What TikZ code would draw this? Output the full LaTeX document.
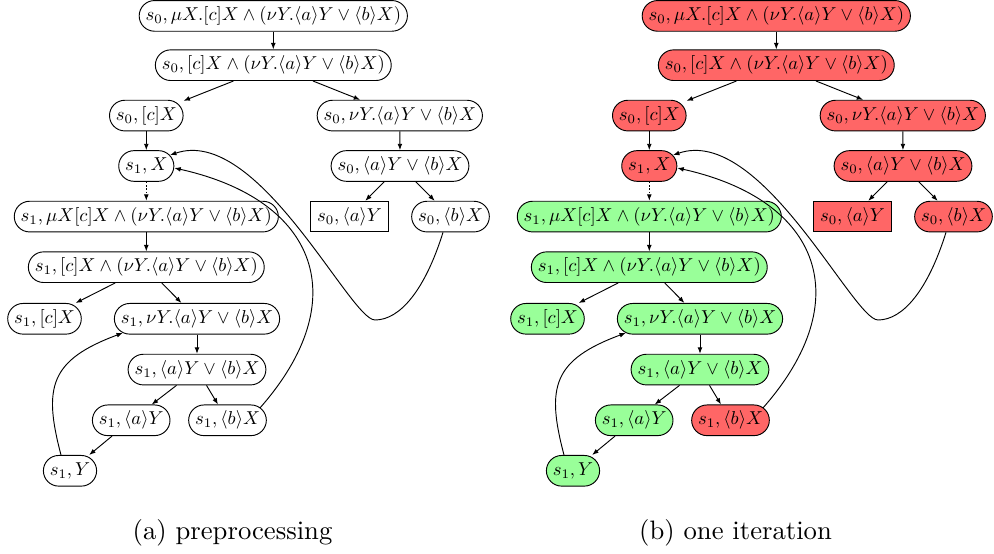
\documentclass[tikz,border=0pt]{standalone}
\usepackage{graphicx}
\usetikzlibrary{arrows.meta,calc}
\definecolor{rfill}{RGB}{255,102,102}
\definecolor{gfill}{RGB}{153,255,153}
\newcommand\mt[1]{\scalebox{0.70}{$#1$}}
\tikzset{
  stnode/.style={draw, line width=0.35pt, rounded corners=5.75pt, minimum height=11.5pt,
    inner xsep=2.4pt, inner ysep=0pt, text height=5.25pt, text depth=1.75pt},
  leafnode/.style={stnode, sharp corners},
  rnode/.style={}, gnode/.style={},
  conn/.style={-{Latex[length=2.4pt,width=1.8pt]}, line width=0.35pt},
  dotconn/.style={conn, dash pattern=on 0.6pt off 0.65pt},
  captext/.style={font=\normalsize, inner sep=0pt}
}
\newcommand\drawtree[1]{%
  \node[stnode,rnode] (#1n1) at (273.3,15.9) {\mt{s_0, \mu X.[c]X \wedge (\nu Y.\langle a\rangle Y \vee \langle b\rangle X)}};
  \node[stnode,rnode] (#1n2) at (273.3,65.2) {\mt{s_0, [c]X \wedge (\nu Y.\langle a\rangle Y \vee \langle b\rangle X)}};
  \node[stnode,rnode] (#1n3) at (146.3,115.6) {\mt{s_0, [c]X}};
  \node[stnode,rnode] (#1n4) at (399.8,115.6) {\mt{s_0, \nu Y.\langle a\rangle Y \vee \langle b\rangle X}};
  \node[stnode,rnode] (#1n5) at (146.3,166) {\mt{s_1, X}};
  \node[stnode,rnode] (#1n6) at (400,166) {\mt{s_0, \langle a\rangle Y \vee \langle b\rangle X}};
  \node[stnode,gnode] (#1n7) at (146.3,216.6) {\mt{s_1, \mu X[c]X \wedge (\nu Y.\langle a\rangle Y \vee \langle b\rangle X)}};
  \node[leafnode,rnode] (#1n8) at (349.5,216.6) {\mt{s_0, \langle a\rangle Y}};
  \node[stnode,rnode] (#1n9) at (450.5,216.6) {\mt{s_0, \langle b\rangle X}};
  \node[stnode,gnode] (#1n10) at (146.3,267.2) {\mt{s_1, [c]X \wedge (\nu Y.\langle a\rangle Y \vee \langle b\rangle X)}};
  \node[stnode,gnode] (#1n11) at (44.5,318.8) {\mt{s_1, [c]X}};
  \node[stnode,gnode] (#1n12) at (197,318.8) {\mt{s_1, \nu Y.\langle a\rangle Y \vee \langle b\rangle X}};
  \node[stnode,gnode] (#1n13) at (197,369.6) {\mt{s_1, \langle a\rangle Y \vee \langle b\rangle X}};
  \node[stnode,gnode] (#1n14) at (131.2,420.3) {\mt{s_1, \langle a\rangle Y}};
  \node[stnode,rnode] (#1n15) at (227.5,420.3) {\mt{s_1, \langle b\rangle X}};
  \node[stnode,gnode] (#1n16) at (70,470.8) {\mt{s_1, Y}};
  \coordinate (#1m) at (375,320);
  \draw[conn] (#1n1) -- (#1n2);
  \draw[conn] (#1n2) -- (#1n3);
  \draw[conn] (#1n2) -- (#1n4);
  \draw[conn] (#1n3) -- (#1n5);
  \draw[conn] (#1n4) -- (#1n6);
  \draw[dotconn] (#1n5) -- (#1n7);
  \draw[conn] (#1n6) -- (#1n8);
  \draw[conn] (#1n6) -- (#1n9);
  \draw[conn] (#1n7) -- (#1n10);
  \draw[conn] (#1n10) -- (#1n11);
  \draw[conn] (#1n10) -- (#1n12);
  \draw[conn] (#1n12) -- (#1n13);
  \draw[conn] (#1n13) -- (#1n14);
  \draw[conn] (#1n13) -- (#1n15);
  \draw[conn] (#1n14) -- (#1n16);
  \draw[conn] ($(#1n16.north)+(-9,0)$) .. controls (43,387) and (50,360) .. ($(#1n12.south west)+(9,-1.7)$);
  \draw[conn] ($(#1n15.north east)+(-6.7,3.3)$) .. controls (355,300) and (318,200) .. ($(#1n5.east)+(0,2)$);
  \draw[conn] ($(#1n9.south)+(-7.5,0)$) .. controls (425,290) and (400,320) .. (#1m)
     .. controls (350,320) and (258,125) .. ($(#1n5.east)+(-4.3,-10.9)$);
}
\begin{document}
\begin{tikzpicture}[x=0.375pt,y=-0.375pt]
  \useasboundingbox (0,0) rectangle (994,554);
  \begin{scope}
    \drawtree{a}
  \end{scope}
  \begin{scope}[shift={(503,0)}, rnode/.style={fill=rfill}, gnode/.style={fill=gfill}]
    \drawtree{b}
  \end{scope}
  \node[captext] (capa) at (232.5,533) {(a) preprocessing};
  \node[captext] (capb) at (735.5,533) {(b) one iteration};
\end{tikzpicture}
\end{document}
